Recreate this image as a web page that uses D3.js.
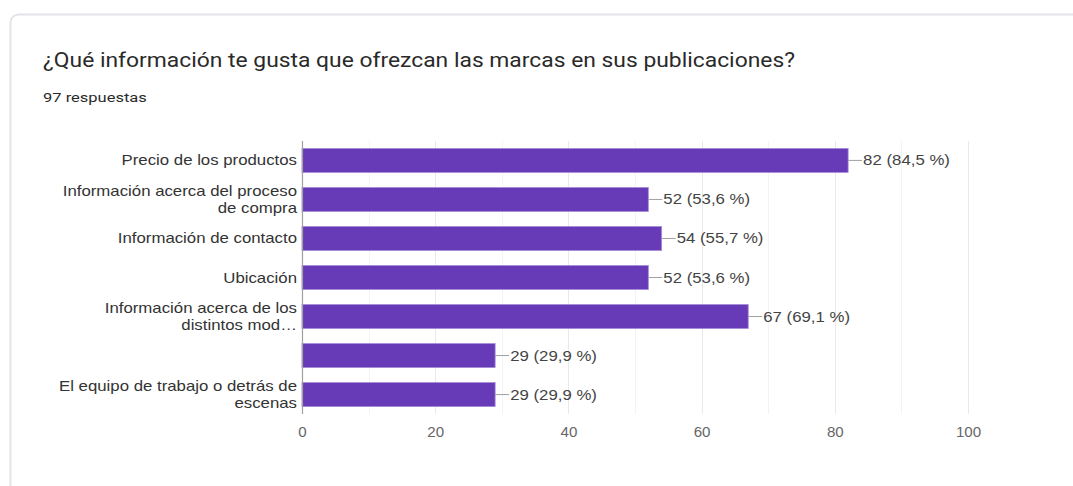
<!DOCTYPE html>
<html>
<head>
<meta charset="utf-8">
<script src="https://cdn.jsdelivr.net/npm/d3@7"></script>
<style>
  html, body { margin: 0; padding: 0; background: #ffffff; }
  svg { display: block; }
</style>
</head>
<body>
<svg id="chart" width="1073" height="486"></svg>
<script>
// Survey question and totals
const title = "¿Qué información te gusta que ofrezcan las marcas en sus publicaciones?";
const subtitle = "97 respuestas";

// Answer options (each label split into display lines)
const categories = [
  ["Precio de los productos"],
  ["Información acerca del proceso", "de compra"],
  ["Información de contacto"],
  ["Ubicación"],
  ["Información acerca de los", "distintos mod…"],
  [""],
  ["El equipo de trabajo o detrás de", "escenas"]
];
const counts = [82, 52, 54, 52, 67, 29, 29];
const percents = ["84,5", "53,6", "55,7", "53,6", "69,1", "29,9", "29,9"];
const xTicks = [0, 20, 40, 60, 80, 100];
const xGrid = [10, 20, 30, 40, 50, 60, 70, 80, 90, 100];

const svg = d3.select("#chart");
const W = 1073, H = 486;
const SANS = "Arial, 'Liberation Sans', sans-serif";
const ROBOTO = "Roboto, Arial, sans-serif";

// Places a text node at (x, y) with a horizontal stretch factor
function placeText(sel, x, y, sx) {
  return sel.attr("x", 0).attr("y", 0)
    .attr("transform", `translate(${x},${y}) scale(${sx},1)`);
}

// Card frame
svg.append("rect")
  .attr("x", 10.5).attr("y", 14.5)
  .attr("width", W + 20).attr("height", H + 20)
  .attr("rx", 8)
  .attr("fill", "#ffffff")
  .attr("stroke", "#e3e3e8")
  .attr("stroke-width", 2);

placeText(svg.append("text"), 43, 67, 1.172)
  .attr("font-family", ROBOTO)
  .attr("font-size", 19.5)
  .attr("fill", "#2a2a2a")
  .text(title);

placeText(svg.append("text"), 43, 102, 1.27)
  .attr("font-family", ROBOTO)
  .attr("font-size", 13)
  .attr("fill", "#2a2a2a")
  .text(subtitle);

const plot = { left: 302, right: 968, top: 141, bottom: 414 };
const ids = categories.map((_, i) => i);

const x = d3.scaleLinear().domain([0, 100]).range([plot.left, plot.right]);
const y = d3.scaleBand().domain(ids).range([plot.top, plot.bottom]).paddingInner(0.385).paddingOuter(0.19);

// Vertical grid lines
svg.append("g").selectAll("line").data(xGrid).join("line")
  .attr("x1", d => Math.round(x(d)) + 0.5).attr("x2", d => Math.round(x(d)) + 0.5)
  .attr("y1", plot.top).attr("y2", plot.bottom)
  .attr("stroke", d => d % 20 === 0 ? "#e9e9e9" : "#f3f3f3")
  .attr("stroke-width", 1);

// Bars
svg.append("g").selectAll("rect").data(ids).join("rect")
  .attr("x", plot.left)
  .attr("y", d => y(d))
  .attr("width", d => x(counts[d]) - plot.left)
  .attr("height", y.bandwidth())
  .attr("fill", "#673ab7")
  .attr("stroke", "#a58bd8")
  .attr("stroke-width", 0.8);

// Baseline axis
svg.append("line")
  .attr("x1", plot.left + 0.5).attr("x2", plot.left + 0.5)
  .attr("y1", plot.top).attr("y2", plot.bottom)
  .attr("stroke", "#a0a0a0").attr("stroke-width", 1.2);

// Value annotations with leader lines
const ann = svg.append("g");
ids.forEach(i => {
  const xe = x(counts[i]);
  const yc = y(i) + y.bandwidth() / 2;
  ann.append("line")
    .attr("x1", xe).attr("x2", xe + 14)
    .attr("y1", yc).attr("y2", yc)
    .attr("stroke", "#a0a0a0").attr("stroke-width", 1);
  placeText(ann.append("text"), xe + 15, yc + 5, 1.2)
    .attr("font-family", SANS)
    .attr("font-size", 14)
    .attr("fill", "#444444")
    .text(`${counts[i]} (${percents[i]} %)`);
});

// Category labels
const yAxis = svg.append("g");
ids.forEach(i => {
  const lines = categories[i];
  const yc = y(i) + y.bandwidth() / 2;
  const lh = 17;
  const y0 = yc - (lines.length - 1) * lh / 2 + 5;
  lines.forEach((ln, k) => {
    placeText(yAxis.append("text"), 297, y0 + k * lh, 1.2)
      .attr("text-anchor", "end")
      .attr("font-family", SANS)
      .attr("font-size", 14)
      .attr("fill", "#333333")
      .text(ln);
  });
});

// X axis tick labels
const xAxis = d3.axisBottom(x).tickValues(xTicks).tickSize(0).tickPadding(13);
const gx = svg.append("g").attr("transform", `translate(0,${plot.bottom})`).call(xAxis);
gx.select(".domain").remove();
gx.selectAll("text")
  .attr("font-family", SANS)
  .attr("font-size", 14)
  .attr("fill", "#666666")
  .attr("transform", "scale(1.08,1)");
</script>
</body>
</html>
